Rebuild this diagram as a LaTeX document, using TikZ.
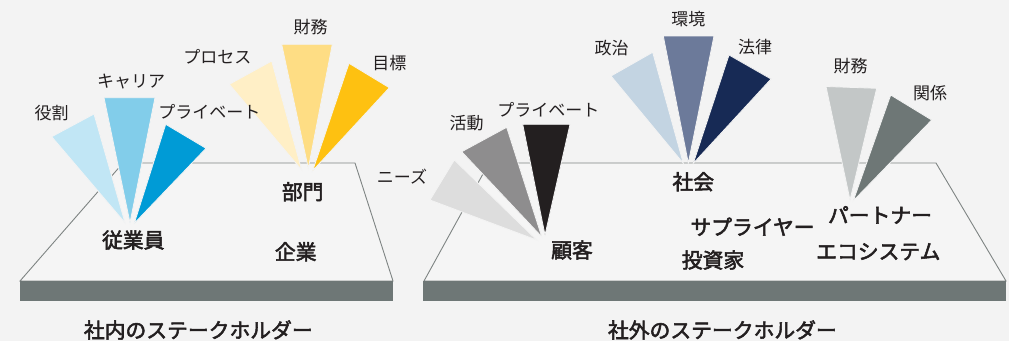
\documentclass[tikz,border=0pt]{standalone}
\usepackage{fontspec}
\setmainfont{Noto Sans CJK JP}
\newfontfamily\jpmid{Noto Sans CJK JP}[FakeBold=2.5]
\definecolor{bg}{HTML}{F3F3F3}
\definecolor{surf}{HTML}{F5F5F5}
\definecolor{edge}{HTML}{7E8483}
\definecolor{slab}{HTML}{6E7776}
\definecolor{txt}{HTML}{231F20}
\definecolor{bA}{HTML}{C1E6F5}
\definecolor{bB}{HTML}{82CDEA}
\definecolor{bC}{HTML}{009BD6}
\definecolor{yA}{HTML}{FFEFC6}
\definecolor{yB}{HTML}{FEDD84}
\definecolor{yC}{HTML}{FEC111}
\definecolor{gA}{HTML}{DDDDDD}
\definecolor{gB}{HTML}{8E8D8E}
\definecolor{gC}{HTML}{231F20}
\definecolor{sA}{HTML}{C3D4E2}
\definecolor{sB}{HTML}{6C7A9A}
\definecolor{sC}{HTML}{172A55}
\definecolor{pA}{HTML}{C3C7C7}
\definecolor{pB}{HTML}{6E7776}
\tikzset{
  small/.style={font=\fontsize{17}{19}\selectfont, text=txt, inner sep=0pt},
  big/.style={font=\jpmid\fontsize{20.8}{22}\selectfont, text=txt, inner sep=0pt},
  wedge/.style={draw=bg, line width=0.8pt, line join=miter},
  surface/.style={fill=surf, draw=edge, line width=0.9pt, line join=miter},
  slabbox/.style={fill=slab, draw=none}
}
\begin{document}
\begin{tikzpicture}[x=1pt,y=-1pt]
\fill[bg] (0,0) rectangle (1009,341);
\useasboundingbox (0,0) rectangle (1009,341);
% platforms
\filldraw[surface] (20,281) -- (123,163) -- (355,163) -- (393,281) -- cycle;
\fill[slabbox] (20,281) rectangle (393,301);
\filldraw[surface] (424,281) -- (489,163) -- (936,163) -- (1006,281) -- cycle;
\fill[slabbox] (423,281) rectangle (1006,301);
% employee fan
\filldraw[wedge, fill=bA] (51.7,136.7) -- (94,114) -- (125,222.7) -- cycle;
\filldraw[wedge, fill=bB] (104,97.7) -- (155,97.7) -- (130,222.7) -- cycle;
\filldraw[wedge, fill=bC] (165.7,124.3) -- (206,148.3) -- (134.3,223.3) -- cycle;
% department fan
\filldraw[wedge, fill=yA] (229.3,84.3) -- (271.7,61) -- (301.7,170) -- cycle;
\filldraw[wedge, fill=yB] (281.7,44.3) -- (332.3,44.3) -- (308.3,168.3) -- cycle;
\filldraw[wedge, fill=yC] (349,63.3) -- (389.3,87.7) -- (312.7,170.7) -- cycle;
% customer fan
\filldraw[wedge, fill=gA] (430,200) -- (454.3,160) -- (536.7,240) -- cycle;
\filldraw[wedge, fill=gB] (461.7,151.7) -- (506.7,127.3) -- (541.7,236.7) -- cycle;
\filldraw[wedge, fill=gC] (522.7,124.3) -- (570,124.3) -- (545,235) -- cycle;
% society fan
\filldraw[wedge, fill=sA] (611,76) -- (652.7,52.3) -- (683.3,163.3) -- cycle;
\filldraw[wedge, fill=sB] (663.3,36) -- (714,36) -- (688.3,163) -- cycle;
\filldraw[wedge, fill=sC] (729,55) -- (771,79) -- (693.3,163.3) -- cycle;
% partner fan
\filldraw[wedge, fill=pA] (826,86.5) -- (876.7,88.3) -- (850,200) -- cycle;
\filldraw[wedge, fill=pB] (890.7,95) -- (931.7,120) -- (853.3,200.7) -- cycle;
% small labels
\node[small] (yakuwari) at (51.7,113.3) {役割};
\node[small] (career) at (131,81.7) {キャリア};
\node[small] (privE) at (209.3,111.7) {プライベート};
\node[small] (process) at (217.3,56.7) {プロセス};
\node[small] (zaimuD) at (310.7,26.7) {財務};
\node[small] (mokuhyo) at (389.3,62.7) {目標};
\node[small] (needs) at (402,177) {ニーズ};
\node[small] (katsudo) at (466.7,123.3) {活動};
\node[small] (privC) at (548.3,110) {プライベート};
\node[small] (seiji) at (611.7,48.3) {政治};
\node[small] (kankyo) at (688.3,19.3) {環境};
\node[small] (horitsu) at (755,46.7) {法律};
\node[small] (zaimuP) at (850.5,66.5) {財務};
\node[small] (kankei) at (930,93.3) {関係};
% big labels
\node[big] (jugyoin) at (133.3,240) {従業員};
\node[big] (bumon) at (302.7,191.7) {部門};
\node[big] (kigyo) at (295.7,251.7) {企業};
\node[big] (kokyaku) at (572,250) {顧客};
\node[big] (shakai) at (693.3,181.7) {社会};
\node[big] (supplier) at (752.5,226.7) {サプライヤー};
\node[big] (toshika) at (713,260) {投資家};
\node[big] (partner) at (880,215) {パートナー};
\node[big] (eco) at (878.3,251.7) {エコシステム};
\node[big] (internal) at (198.3,330) {社内のステークホルダー};
\node[big] (external) at (722.4,330) {社外のステークホルダー};
\end{tikzpicture}
\end{document}
